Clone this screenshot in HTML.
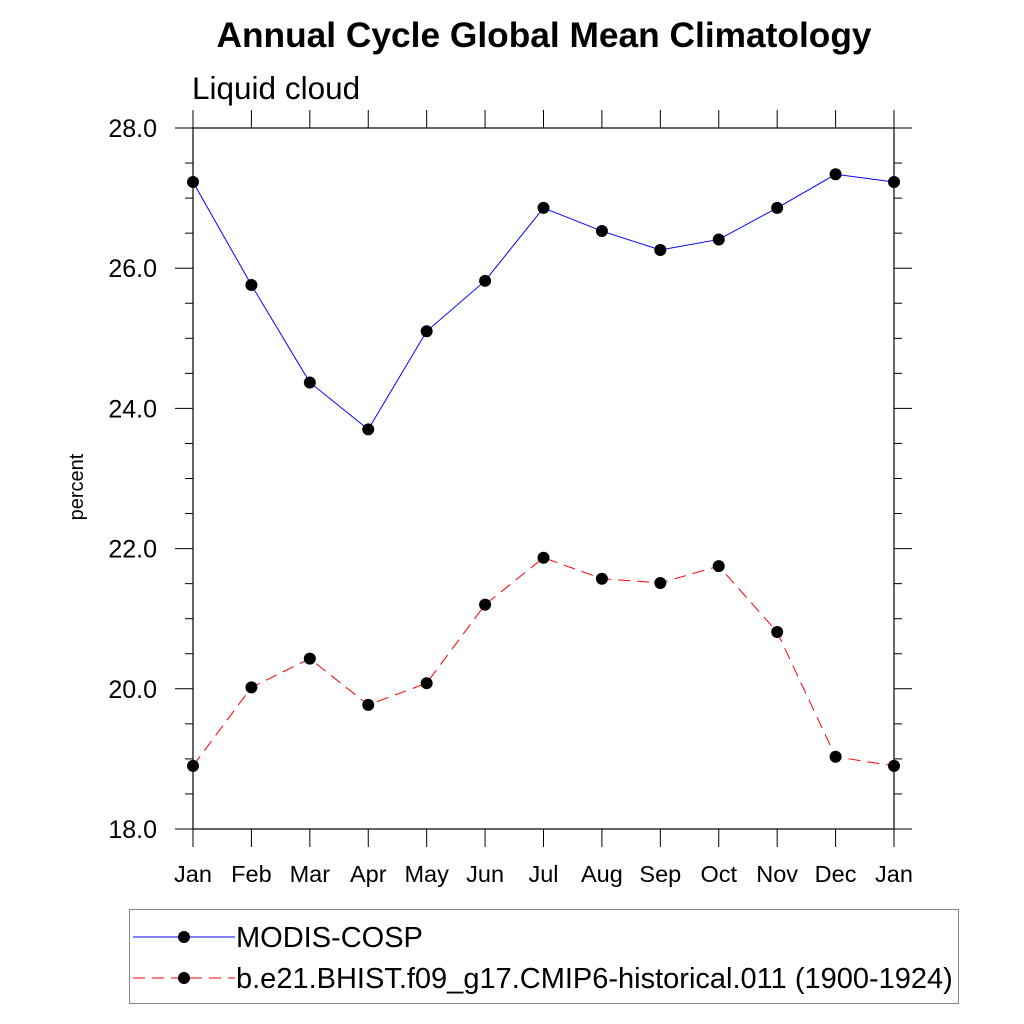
<!DOCTYPE html>
<html><head><meta charset="utf-8"><style>body{margin:0;background:#fff}svg{display:block;font-family:"Liberation Sans",sans-serif}</style></head>
<body>
<svg id="c" width="1024" height="1024">
<text x="544" y="47" font-size="35.3" font-weight="bold" text-anchor="middle">Annual Cycle Global Mean Climatology</text>
<text x="192" y="99" font-size="31.5">Liquid cloud</text>
<text x="0" y="0" font-size="20" text-anchor="middle" transform="translate(83,487) rotate(-90)">percent</text>
<g id="axes"></g><g id="series"></g>
<rect x="129.5" y="909.5" width="829" height="94" fill="none" stroke="#888"/>
<line x1="133" y1="937" x2="235" y2="937" stroke="#00f"/>
<circle cx="184" cy="937" r="6" fill="#000"/>
<text x="236" y="947" font-size="29">MODIS-COSP</text>
<line x1="133" y1="978" x2="235" y2="978" stroke="#f00" stroke-dasharray="12,7"/>
<circle cx="184" cy="978" r="6" fill="#000"/>
<text x="236" y="988" font-size="29">b.e21.BHIST.f09_g17.CMIP6-historical.011 (1900-1924)</text>
</svg>
<script>
const months=["Jan","Feb","Mar","Apr","May","Jun","Jul","Aug","Sep","Oct","Nov","Dec","Jan"];
const modis=[27.23,25.76,24.37,23.70,25.10,25.82,26.86,26.53,26.26,26.41,26.86,27.34,27.23];
const model=[18.90,20.02,20.43,19.77,20.08,21.20,21.87,21.57,21.51,21.75,20.81,19.03,18.90];
const yTicks=[18,20,22,24,26,28];
const NS="http://www.w3.org/2000/svg";
const L=193,R=894,T=128,B=829,ymin=18,ymax=28;
const xs=i=>L+(R-L)*i/(months.length-1);
const ys=v=>B-(v-ymin)/(ymax-ymin)*(B-T);
function mk(p,t,a){const e=document.createElementNS(NS,t);for(const k in a)e.setAttribute(k,a[k]);p.appendChild(e);return e;}
const ax=document.getElementById('axes');
const fr=mk(ax,'rect',{x:L,y:T,width:R-L,height:B-T,fill:'none',stroke:'#000','stroke-width':1.2});


months.forEach((m,i)=>{const x=xs(i);
 const t1=mk(ax,'line',{x1:x,y1:B,x2:x,y2:B+18,stroke:'#000'});
 
 
 const t2=mk(ax,'line',{x1:x,y1:T,x2:x,y2:T-18,stroke:'#000'});
 
 
 const tx=mk(ax,'text',{x:x,y:882,'font-size':23.5,'text-anchor':'middle'});tx.textContent=m;
 
 
});
for(let v=ymin;v<=ymax+1e-9;v+=0.5){const y=ys(v);const maj=Math.abs(v%2)<1e-9;const len=maj?18:8;
 const a=mk(ax,'line',{x1:L,y1:y,x2:L-len,y2:y,stroke:'#000'});
 
 
 const b=mk(ax,'line',{x1:R,y1:y,x2:R+len,y2:y,stroke:'#000'});
 
 
}
yTicks.forEach(v=>{const t=mk(ax,'text',{x:157,y:ys(v)+9,'font-size':25,'text-anchor':'end'});t.textContent=v.toFixed(1);
 
 });
const sg=document.getElementById('series');
function series(vals,col,dash,name){
 const pl=mk(sg,'polyline',{points:vals.map((v,i)=>xs(i)+','+ys(v)).join(' '),fill:'none',stroke:col,'stroke-dasharray':dash});
 
 
 vals.forEach((v,i)=>{const c=mk(sg,'circle',{cx:xs(i),cy:ys(v),r:6,fill:'#000'});
  
  });
}
series(modis,'#00f','none','modis');
series(model,'#f00','12,7','model');
</script>
</body></html>
